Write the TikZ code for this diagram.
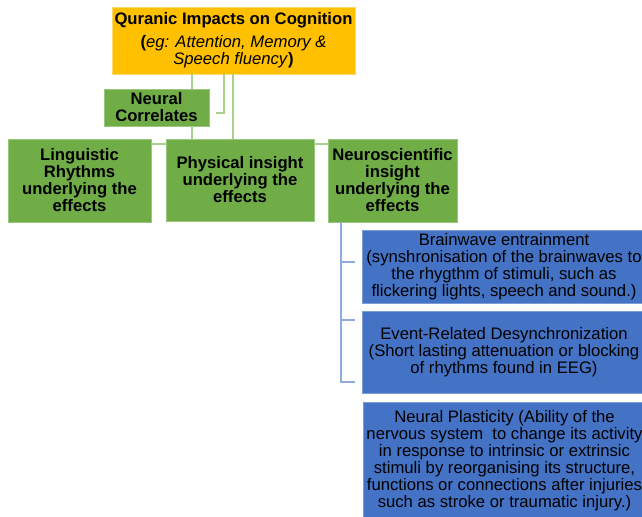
\documentclass[tikz,border=0pt]{standalone}
\usepackage{fontspec}
\setmainfont{Liberation Sans}
\begin{document}
\begin{tikzpicture}[x=0.75pt,y=-0.75pt,
  box/.style={inner sep=0pt, align=center, font=\fontsize{12.5pt}{12.75pt}\selectfont, text=black},
  orangebox/.style={box, fill=orng, draw=orng!60!white, line width=0.5pt},
  greenbox/.style={box, fill=grn, draw=grn!70!white, line width=0.5pt, font=\fontsize{12.5pt}{12.75pt}\selectfont\bfseries},
  bluebox/.style={box, fill=blu, draw=blu!70!white, line width=0.5pt},
  gline/.style={draw=glin, line width=1.5pt},
  bline/.style={draw=blin, line width=1.5pt}]
\definecolor{orng}{HTML}{FFC000}
\definecolor{grn}{HTML}{70AD47}
\definecolor{blu}{HTML}{4472C4}
\definecolor{glin}{HTML}{A9D18E}
\definecolor{blin}{HTML}{8FAADC}
\useasboundingbox (0,0) rectangle (642,517);
\clip (0,0) rectangle (642,517);
\fill[white] (0,0) rectangle (642,517);

% nodes
\node[orangebox, minimum width=243*0.75pt, minimum height=67*0.75pt] (top) at (233.5,40.5)
  {\textbf{Quranic Impacts on Cognition}\\[4.5pt]
   \textbf{(}\textit{eg: Attention, Memory \&}\\
   \textit{Speech fluency}\textbf{)}};
\node[greenbox, minimum width=105*0.75pt, minimum height=37*0.75pt] (nc) at (156.5,107.5)
  {Neural\\Correlates};
\node[greenbox, minimum width=143*0.75pt, minimum height=83*0.75pt] (ling) at (79.5,180.5)
  {Linguistic\\Rhythms\\underlying the\\effects};
\node[greenbox, minimum width=148*0.75pt, minimum height=82*0.75pt] (phys) at (240,180)
  {Physical insight\\underlying the\\effects};
\node[greenbox, minimum width=129*0.75pt, minimum height=83*0.75pt] (neuro) at (392.5,180.5)
  {Neuroscientific\\insight\\underlying the\\effects};
\node[bluebox, minimum width=284*0.75pt, minimum height=73*0.75pt] (bw) at (504,266.5)
  {Brainwave entrainment\\(synshronisation of the brainwaves to\\the rhygthm of stimuli, such as\\flickering lights, speech and sound.)};
\node[bluebox, minimum width=284*0.75pt, minimum height=82*0.75pt] (erd) at (504,352)
  {Event-Related Desynchronization\\(Short lasting attenuation or blocking\\of rhythms found in EEG)};
\node[bluebox, minimum width=283*0.75pt, minimum height=118*0.75pt] (np) at (504.5,461)
  {Neural Plasticity (Ability of the\\nervous system\ \ to change its activity\\in response to intrinsic or extrinsic\\stimuli by reorganising its structure,\\functions or connections after injuries\\such as stroke or traumatic injury.)};

% helper coordinates
\coordinate (xa) at (192,0);
\coordinate (xb) at (224,0);
\coordinate (xc) at (233,0);
\coordinate (elb) at (216,113);
\coordinate (xd) at (341,0);
\coordinate (t1) at (355,262);
\coordinate (t2) at (355,320);
\coordinate (t3) at (355,382);

% green connectors
\draw[gline] (top.south -| xa) -- (nc.north -| xa);
\draw[gline] (nc.south -| xa) -- (phys.north -| xa);
\draw[gline] (top.south -| xb) |- (elb);
\draw[gline] (top.south -| xc) -- (phys.north -| xc);
\draw[gline] (ling.east |- 0,144) -- (phys.west |- 0,144);
\draw[gline] (phys.east |- 0,144) -- (neuro.west |- 0,144);

% blue connectors
\draw[bline] (neuro.south -| xd) -- (xd |- t3) -- (t3);
\draw[bline] (xd |- t1) -- (t1);
\draw[bline] (xd |- t2) -- (t2);
\end{tikzpicture}
\end{document}
